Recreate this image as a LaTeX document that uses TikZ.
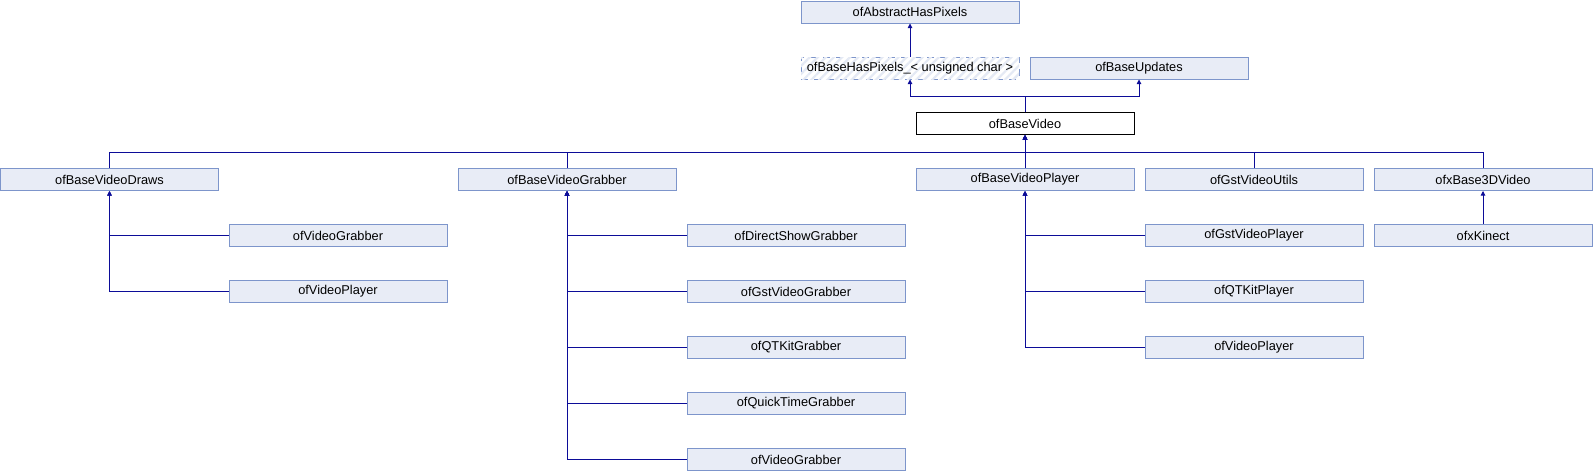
\documentclass[tikz,border=0pt]{standalone}
\usepackage{fontspec}
\setmainfont{Liberation Sans}
\usetikzlibrary{arrows.meta,patterns.meta}
\definecolor{boxfill}{HTML}{E8ECF6}
\definecolor{boxline}{HTML}{7D95CB}
\definecolor{edgecol}{HTML}{0C0C98}
\definecolor{hatch}{HTML}{E4E9F4}
\tikzset{
  lbl/.style={font=\fontsize{12.8}{14}\selectfont},
  cls/.style={lbl, draw=boxline, fill=boxfill, line width=1pt, minimum width=218pt, minimum height=22pt, inner sep=0pt},
  focus/.style={cls, draw=black, fill=white},
  tmpl/.style={cls, fill=white, dash pattern=on 7pt off 6pt,
    postaction={pattern={Lines[angle=45,distance=5.7pt,line width=2.2pt]}, pattern color=hatch}},
  edge/.style={draw=edgecol, line width=0.9pt},
  inh/.style={edge, -{Triangle[length=4.5pt,width=4.5pt]}}
}
\begin{document}
\begin{tikzpicture}[x=1pt,y=-1pt]
\useasboundingbox (0,0) rectangle (1593,472);
% top
\node[cls] (ahp) at (910,12) {ofAbstractHasPixels};
\node[tmpl] (bhp) at (910,68) {};
\node[lbl] (bhpt) at (910,68) {ofBaseHasPixels\_< unsigned char >};
\node[cls] (bu) at (1139,68) {ofBaseUpdates};
\node[focus] (bv) at (1025,123.5) {ofBaseVideo};
% row 3
\node[cls] (bvd) at (109.5,179.5) {ofBaseVideoDraws};
\node[cls] (bvg) at (567,179.5) {ofBaseVideoGrabber};
\node[cls] (bvp) at (1025,179.5) {ofBaseVideoPlayer};
\node[cls] (gvu) at (1254,179.5) {ofGstVideoUtils};
\node[cls] (x3d) at (1483,179.5) {ofxBase3DVideo};
% draws children
\node[cls] (dvg) at (338,235.5) {ofVideoGrabber};
\node[cls] (dvp) at (338,291.5) {ofVideoPlayer};
% grabber children
\node[cls] (dsg) at (796,235.5) {ofDirectShowGrabber};
\node[cls] (gvg) at (796,291.5) {ofGstVideoGrabber};
\node[cls] (qtg) at (796,347.5) {ofQTKitGrabber};
\node[cls] (qtt) at (796,403.5) {ofQuickTimeGrabber};
\node[cls] (gvg2) at (796,459.5) {ofVideoGrabber};
% player children
\node[cls] (gvp) at (1254,235.5) {ofGstVideoPlayer};
\node[cls] (qkp) at (1254,291.5) {ofQTKitPlayer};
\node[cls] (vpl) at (1254,347.5) {ofVideoPlayer};
% kinect
\node[cls] (kin) at (1483,235.5) {ofxKinect};
% edges top
\draw[inh] (bhp.north) -- (ahp.south);
\draw[inh] (bv.north) -- ++(0,-15.5) -| (bhp.south);
\draw[inh] (bv.north) -- ++(0,-15.5) -| (bu.south);
% bus
\foreach \c in {bvd,bvg,bvp,gvu,x3d}
  \draw[inh] (\c.north) -- ++(0,-16) -| (bv.south);
% children
\foreach \c in {dvg,dvp}
  \draw[inh] (\c.west) -| (bvd.south);
\foreach \c in {dsg,gvg,qtg,qtt,gvg2}
  \draw[inh] (\c.west) -| (bvg.south);
\foreach \c in {gvp,qkp,vpl}
  \draw[inh] (\c.west) -| (bvp.south);
\draw[inh] (kin.north) -- (x3d.south);
\end{tikzpicture}
\end{document}
